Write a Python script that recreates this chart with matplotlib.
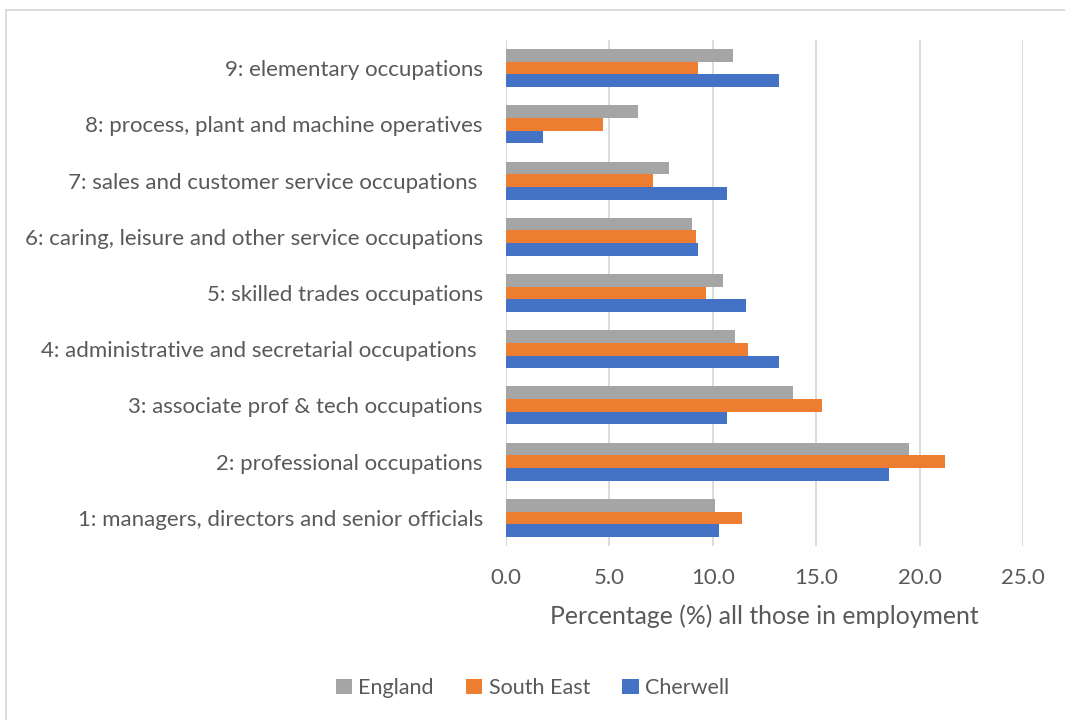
import numpy as np
import matplotlib

matplotlib.use("Agg")
import matplotlib.pyplot as plt
from matplotlib.lines import Line2D

categories = [
    "1: managers, directors and senior officials",
    "2: professional occupations",
    "3: associate prof & tech occupations",
    "4: administrative and secretarial occupations ",
    "5: skilled trades occupations",
    "6: caring, leisure and other service occupations",
    "7: sales and customer service occupations ",
    "8: process, plant and machine operatives",
    "9: elementary occupations",
]
england = [10.1, 19.5, 13.9, 11.1, 10.5, 9.0, 7.9, 6.4, 11.0]
south_east = [11.4, 21.2, 15.3, 11.7, 9.7, 9.2, 7.1, 4.7, 9.3]
cherwell = [10.3, 18.5, 10.7, 13.2, 11.6, 9.3, 10.7, 1.8, 13.2]
xticks = [0, 5, 10, 15, 20, 25]

plt.rcParams["font.family"] = ["Lato", "DejaVu Sans"]
text_color = "#595959"

fig = plt.figure(figsize=(10.65, 7.2), dpi=100)
ax = fig.add_axes([505.7 / 1065, 1 - 546 / 720, 517.5 / 1065, 506 / 720])

y = np.arange(len(categories))
h = 0.225
ax.barh(y + h, england, height=h, color="#a5a5a5", label="England")
ax.barh(y, south_east, height=h, color="#ed7d31", label="South East")
ax.barh(y - h, cherwell, height=h, color="#4472c4", label="Cherwell")

ax.set_xlim(0, 25)
ax.set_ylim(-0.5, len(categories) - 0.5)
ax.set_xticks(xticks)
ax.set_xticklabels([f"{v:.1f}" for v in xticks])
ax.set_yticks(y)
ax.set_yticklabels(categories)
ax.tick_params(axis="both", length=0, labelsize=16, colors=text_color)
ax.tick_params(axis="x", pad=16)
ax.tick_params(axis="y", pad=16.5)
ax.grid(axis="x", color="#d9d9d9", lw=1.3)
ax.set_axisbelow(True)
for side in ["top", "right", "bottom", "left"]:
    ax.spines[side].set_visible(False)
ax.axvline(0, color="#d9d9d9", lw=1.3, zorder=0.5)

ax.set_xlabel("Percentage (%) all those in employment", fontsize=17.8,
              color=text_color, labelpad=12)

handles, labels = ax.get_legend_handles_labels()
fig.legend(handles, labels, loc="center", bbox_to_anchor=(0.5, 1 - 688 / 720),
           ncol=3, frameon=False, fontsize=15.5, handlelength=0.75,
           handleheight=0.75, handletextpad=0.3, columnspacing=1.5,
           labelcolor=text_color)

# chart area border (top and left edges visible)
fig.add_artist(Line2D([6 / 1065, 1], [1 - 10 / 720, 1 - 10 / 720],
                      transform=fig.transFigure, color="#d9d9d9", lw=1.3))
fig.add_artist(Line2D([6 / 1065, 6 / 1065], [0, 1 - 10 / 720],
                      transform=fig.transFigure, color="#d9d9d9", lw=1.3))

fig.savefig("out.png", dpi=100)
